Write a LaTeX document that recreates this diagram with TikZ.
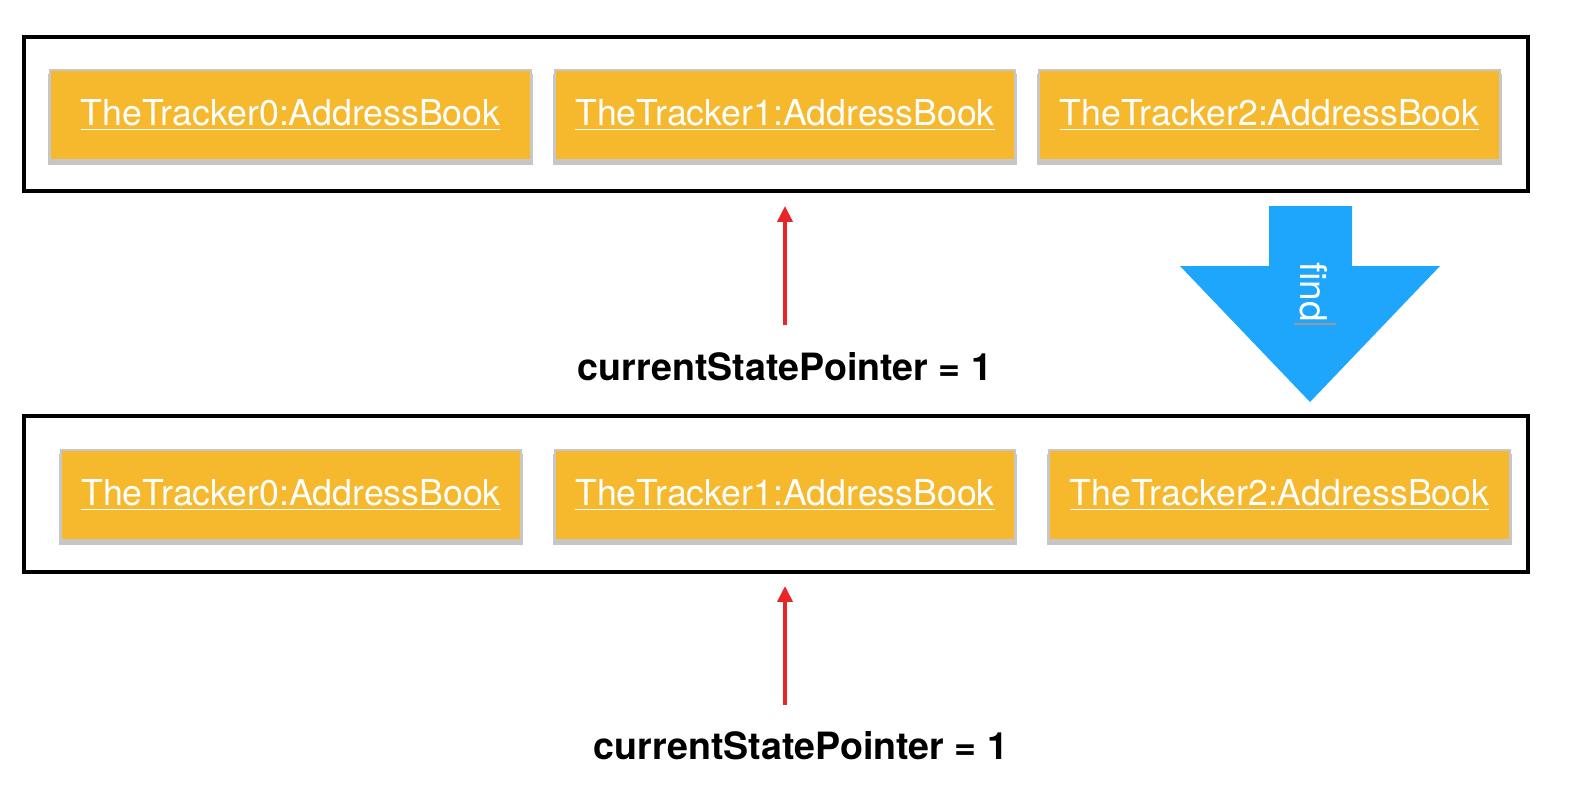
\documentclass[tikz,border=0pt]{standalone}
\usepackage{fontspec}
\setmainfont{TeX Gyre Heros}
\usepackage{tikz}
\usetikzlibrary{arrows,arrows.meta,shapes,positioning,shadows}
\definecolor{bookfill}{RGB}{246,185,46}
\definecolor{findblue}{RGB}{30,165,252}
\definecolor{ptrred}{RGB}{232,38,42}

\begin{document}
\begin{tikzpicture}[x=0.02cm,y=-0.02cm]
                    \tikzstyle{every node}+=[inner sep=0pt]
                    \tikzstyle{frame}=[draw=black,line width=2.2pt,minimum width=30.08cm]
                    \tikzstyle{book}=[fill=bookfill,draw=black!22,line width=1.6pt,minimum height=1.8cm,minimum width=9.2cm,text=white,font=\fontsize{20.3}{24}\selectfont,drop shadow={shadow xshift=0pt,shadow yshift=-2.5pt,shadow scale=1.01,opacity=0.45}]
                    \tikzstyle{ptr}=[draw=ptrred,line width=2pt,-{Triangle[width=8.5pt,length=9pt]}]
                    \tikzstyle{ptrlabel}=[font=\bfseries\fontsize{21.4}{25}\selectfont]
                    \useasboundingbox (0,0) rectangle (1574,806);
                    \node [frame,minimum height=3.08cm] (frameA) at (776,114) {};
                    \node [book,minimum width=9.62cm] (bookA0) at (290.5,115) {\underline{TheTracker0:AddressBook}};
                    \node [book] (bookA1) at (785,115) {\underline{TheTracker1:AddressBook}};
                    \node [book,minimum width=9.22cm] (bookA2) at (1269.5,115) {\underline{TheTracker2:AddressBook}};
                    \node [ptrlabel] (lblA) at (785,367) {currentStatePointer = 1};
                    \coordinate (tailA) at (785,325);
                    \coordinate (tipA) at (785,206);
                    \draw [ptr] (tailA) -- (tipA);
                    \fill [findblue] (1269,206) -- (1352,206) -- (1352,266) -- (1440,266) -- (1310,402) -- (1180,266) -- (1269,266) -- cycle;
                    \node [rotate=-90,text=white,font=\fontsize{21}{24}\selectfont] (find) at (1314,292) {find};
                    \draw [gray!80,line width=1.4pt] ([xshift=-20*0.02cm,yshift=-1pt]find.east) -- ([xshift=22*0.02cm,yshift=-1pt]find.east);
                    \node [frame,minimum height=3.12cm] (frameB) at (776,494) {};
                    \node [book] (bookB0) at (291,495) {\underline{TheTracker0:AddressBook}};
                    \node [book] (bookB1) at (785,495) {\underline{TheTracker1:AddressBook}};
                    \node [book,minimum width=9.22cm] (bookB2) at (1279.5,495) {\underline{TheTracker2:AddressBook}};
                    \node [ptrlabel] (lblB) at (801,746) {currentStatePointer = 1};
                    \coordinate (tailB) at (785,705);
                    \coordinate (tipB) at (785,586);
                    \draw [ptr] (tailB) -- (tipB);
                \end{tikzpicture}
\end{document}
